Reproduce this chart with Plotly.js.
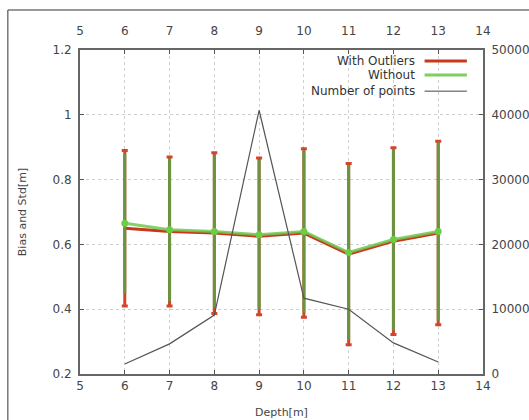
<!DOCTYPE html>
<html><head><meta charset="utf-8">
<script src="https://cdn.plot.ly/plotly-3.0.1.min.js"></script>
<style>html,body{margin:0;padding:0;background:#fff;}#chart{width:529px;height:420px;}</style>
</head><body><div id="chart"></div>
<script>
const depth = [6, 7, 8, 9, 10, 11, 12, 13];
const biasWithOutliers = [0.650, 0.640, 0.635, 0.625, 0.635, 0.570, 0.610, 0.635];
const stdWithOutliers  = [0.240, 0.230, 0.248, 0.242, 0.260, 0.280, 0.288, 0.283];
const biasWithout = [0.665, 0.645, 0.640, 0.630, 0.640, 0.575, 0.615, 0.640];
const stdWithout  = [0.215, 0.220, 0.235, 0.230, 0.250, 0.270, 0.280, 0.275];
const numPoints = [1550, 4650, 9100, 40700, 11700, 10000, 4800, 1850];
const xTicks = [5, 6, 7, 8, 9, 10, 11, 12, 13, 14];
const yTicks = [0.2, 0.4, 0.6, 0.8, 1.0, 1.2];
const y2Ticks = [0, 10000, 20000, 30000, 40000, 50000];
const legendNames = ['With Outliers', 'Without', 'Number of points'];

const fnt = {family: 'DejaVu Sans, sans-serif', size: 12, color: '#444'};
const traces = [
  {x: depth, y: numPoints, yaxis: 'y2', mode: 'lines', line: {color: '#555', width: 1.2}, showlegend: false, hoverinfo: 'skip'},
  {x: depth, y: biasWithOutliers, mode: 'lines', line: {color: '#c8381c', width: 3},
   error_y: {type: 'data', array: stdWithOutliers, visible: true, color: '#d2452a', thickness: 3, width: 3}, showlegend: false},
  {x: depth, y: biasWithout, mode: 'lines+markers', line: {color: 'rgba(110,200,80,0.85)', width: 3},
   marker: {color: '#6ccd46', size: 7},
   error_y: {type: 'data', array: stdWithout, visible: true, color: '#6a9342', thickness: 3, width: 0}, showlegend: false}
];

const gridStyle = {showgrid: true, gridcolor: '#cfcfcf', griddash: 'dot', gridwidth: 1};
const layout = {
  width: 529, height: 420,
  margin: {l: 80, r: 46, t: 50, b: 46},
  paper_bgcolor: '#fff', plot_bgcolor: '#fff',
  font: fnt,
  showlegend: false,
  xaxis: Object.assign({range: [5, 14], tickvals: xTicks, ticktext: xTicks.map(String), ticks: 'inside', ticklen: 4,
    tickcolor: '#555', showline: true, linecolor: '#666', linewidth: 2, mirror: false, zeroline: false,
    title: {text: 'Depth[m]', font: {size: 11, color: '#444'}, standoff: 16}}, gridStyle),
  xaxis2: {overlaying: 'x', side: 'top', range: [5, 14], tickvals: xTicks, ticktext: xTicks.map(String),
    ticks: 'inside', ticklen: 4, tickcolor: '#555', showline: true, linecolor: '#666', linewidth: 2, showgrid: false, zeroline: false, anchor: 'y',
    ticklabelstandoff: 8},
  yaxis: Object.assign({range: [0.2, 1.2], tickvals: yTicks, ticktext: ['0.2','0.4','0.6','0.8','1','1.2'], ticks: 'inside', ticklen: 4,
    tickcolor: '#555', showline: true, linecolor: '#666', linewidth: 2, zeroline: false, ticklabelstandoff: 4,
    title: {text: 'Bias and Std[m]', font: {size: 11, color: '#444'}, standoff: 24}}, gridStyle),
  yaxis2: {overlaying: 'y', side: 'right', range: [0, 50000], tickvals: y2Ticks, ticktext: y2Ticks.map(String),
    ticks: 'inside', ticklen: 4, tickcolor: '#555', showline: true, linecolor: '#666', linewidth: 2, showgrid: false, zeroline: false,
    ticklabelstandoff: 4},
  shapes: [
    {type: 'rect', xref: 'paper', yref: 'paper', x0: -0.179, x1: 1.3, y0: -0.3, y1: 1.1235, line: {color: '#333', width: 1}},
    {type: 'line', xref: 'paper', yref: 'paper', x0: 0.855, x1: 0.96, y0: 0.966, y1: 0.966, line: {color: '#c8381c', width: 3}},
    {type: 'line', xref: 'paper', yref: 'paper', x0: 0.855, x1: 0.96, y0: 0.923, y1: 0.923, line: {color: '#7fcf5e', width: 3}},
    {type: 'line', xref: 'paper', yref: 'paper', x0: 0.855, x1: 0.96, y0: 0.873, y1: 0.873, line: {color: '#444', width: 1}}
  ],
  annotations: legendNames.map((n, i) => ({text: n, xref: 'paper', yref: 'paper', x: 0.835, y: [0.966, 0.923, 0.873][i],
    xanchor: 'right', yanchor: 'middle', showarrow: false, font: {size: 12, color: '#333'}}))
};
traces.push({x: [5, 14], y: [null, null], xaxis: 'x2', mode: 'lines', showlegend: false, hoverinfo: 'skip'});
Plotly.newPlot('chart', traces, layout, {displayModeBar: false, staticPlot: true});
</script></body></html>
